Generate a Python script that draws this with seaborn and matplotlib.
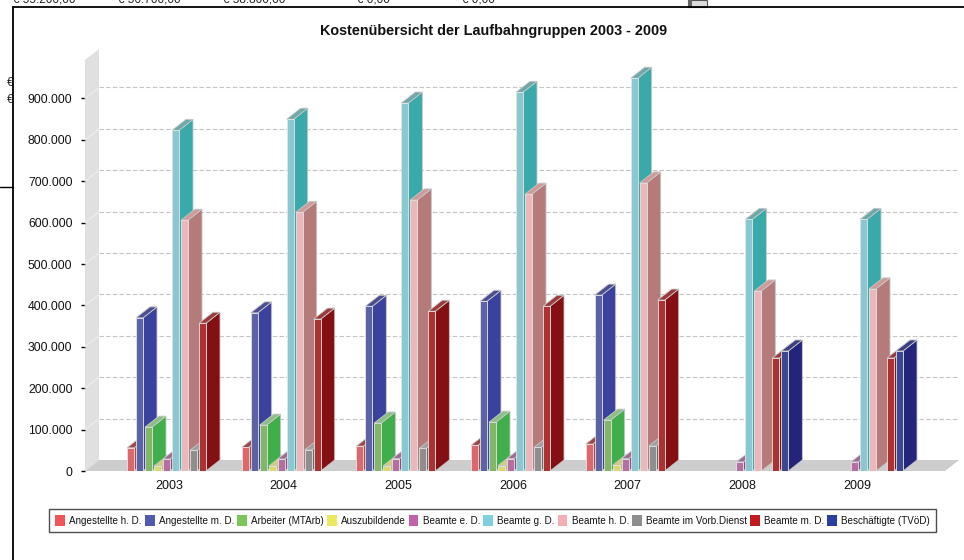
import numpy as np
import pandas as pd
import matplotlib
matplotlib.use('Agg')
import matplotlib.pyplot as plt
from matplotlib.patches import Polygon, Rectangle
from matplotlib.lines import Line2D
from matplotlib.transforms import ScaledTranslation
import seaborn as sns

# values (nan = no bar that year)
years = ['2003', '2004', '2005', '2006', '2007', '2008', '2009']
groups = ['Angestellte h. D.', 'Angestellte m. D.', 'Arbeiter (MTArb)', 'Auszubildende', 'Beamte e. D.',
          'Beamte g. D.', 'Beamte h. D.', 'Beamte im Vorb.Dienst', 'Beamte m. D.', 'Beschäftigte (TVöD)']
nan = float('nan')
ang_hd = [56000, 57000, 60000, 62000, 65000, nan, nan]
ang_md = [370000, 382000, 398000, 410000, 425000, nan, nan]
arbeiter = [106000, 111000, 116000, 118000, 123000, nan, nan]
azubi = [12000, 12000, 13000, 13000, 14000, nan, nan]
beamte_ed = [29000, 29000, 30000, 30000, 30000, 22000, 22000]
beamte_gd = [823000, 850000, 889000, 915000, 949000, 608000, 608000]
beamte_hd = [606000, 625000, 655000, 669000, 696000, 435000, 440000]
beamte_vorb = [50000, 51000, 55000, 57000, 60000, nan, nan]
beamte_md = [357000, 367000, 386000, 398000, 413000, 273000, 273000]
tvoed = [nan, nan, nan, nan, nan, 290000, 290000]
series = [ang_hd, ang_md, arbeiter, azubi, beamte_ed, beamte_gd, beamte_hd, beamte_vorb, beamte_md, tvoed]
yticks = [0, 100000, 200000, 300000, 400000, 500000, 600000, 700000, 800000, 900000]
ytick_labels = ['0', '100.000', '200.000', '300.000', '400.000', '500.000', '600.000', '700.000', '800.000', '900.000']

# leftovers of the spreadsheet behind the chart
stray_labels = ['€ 55.200,00', '€ 56.700,00', '€ 58.800,00', '€ 0,00', '€ 0,00']

front_cols = ['#F05558', '#5059B0', '#7DC45A', '#EDE85F', '#C062A8', '#80CFDC', '#F4AEB4', '#8E8E8E', '#C01C20', '#2A3FA0']
side_cols = ['#B04444', '#3A429E', '#3FAE4B', '#C4C060', '#8E4A80', '#3AA9A9', '#B57A7A', '#6C6C6C', '#851014', '#22257A']
top_cols = ['#A04444', '#4A4F90', '#8CBF84', '#D0CC80', '#A06A94', '#6FA8A8', '#D09A9A', '#A0A0A0', '#9A3A3A', '#3A3F80']

df = pd.DataFrame({
    'year': np.tile(years, len(groups)),
    'group': np.repeat(groups, len(years)),
    'value': np.concatenate(series),
})

sns.set_theme(style='white')
plt.rcParams['font.family'] = ['Liberation Sans', 'DejaVu Sans']

fig = plt.figure(figsize=(9.64, 5.6), dpi=100)
W, H = 964, 560
ax = fig.add_axes([85 / W, (H - 471) / H, 860 / W, 411 / H])

sns.barplot(data=df, x='year', y='value', hue='group', order=years, hue_order=groups,
            palette=front_cols, width=0.785, gap=0.22, dodge=True, legend=False, ax=ax,
            edgecolor='none', linewidth=0, errorbar=None)

ax.set_xlim(-0.75, 6.75)
ax.set_ylim(0, 993000)
ax.set_xlabel('')
ax.set_ylabel('')
sns.despine(ax=ax, left=True, bottom=True, top=True, right=True)
ax.patch.set_alpha(0)

# depth of the fake 3d box, 14 x 11 pixels, in data units
dx = 14 * 7.5 / 860
dy = 11 * 993000 / 411
x0, x1 = ax.get_xlim()
ytop = ax.get_ylim()[1]

# side wall and floor
ax.add_patch(Polygon([(x0, 0), (x0 + dx, dy), (x0 + dx, ytop + dy), (x0, ytop)], fc='#E0E0E0', ec='none',
                     zorder=0.5, clip_on=False))
ax.add_patch(Polygon([(x0, 0), (x1, 0), (x1 + dx, dy), (x0 + dx, dy)], fc='#CDCDCD', ec='none',
                     zorder=0.6, clip_on=False))
for t in yticks[1:]:
    ax.plot([x0 + dx, x1 + dx], [t + dy, t + dy], color='#C4C4C4', lw=0.8, ls=(0, (4, 2)), zorder=0.7, clip_on=False)
    ax.plot([x0, x0 + dx], [t, t + dy], color='#EFEFEF', lw=0.8, zorder=0.7, clip_on=False)

# extrude the bars seaborn drew, left to right so later ones cover earlier ones
bars = []
for cont, side, top, front in zip(ax.containers, side_cols, top_cols, front_cols):
    for b in cont:
        if b.get_height() > 0:
            bars.append((b, side, top))
bars.sort(key=lambda r: r[0].get_x())
z = 2
for b, side, top in bars:
    xa, xb, h = b.get_x(), b.get_x() + b.get_width(), b.get_height()
    ax.add_patch(Polygon([(xb, 0), (xb + dx, dy), (xb + dx, h + dy), (xb, h)], fc=side, ec='#C8C8C8', lw=0.6,
                         zorder=z, clip_on=False))
    ax.add_patch(Polygon([(xa, h), (xa + dx, h + dy), (xb + dx, h + dy), (xb, h)], fc=top, ec='#C8C8C8', lw=0.6,
                         zorder=z + 0.1, clip_on=False))
    b.set_zorder(z + 0.2)
    b.set_edgecolor('#E4E4E4')
    b.set_linewidth(0.6)
    z += 1

ax.set_yticks(yticks, ytick_labels)
ax.tick_params(axis='y', left=True, length=3, width=1, color='black', pad=6, labelsize=8.8, labelcolor='#111111')
ax.tick_params(axis='x', bottom=False, pad=0.5, labelsize=9, labelcolor='#111111')
# year labels sit 2 pixels left of the group centre in the original
for lab in ax.get_xticklabels():
    lab.set_transform(lab.get_transform() + ScaledTranslation(-2 / 100, 0, fig.dpi_scale_trans))

fig.text(493.5 / W, 1 - 31 / H, 'Kostenübersicht der Laufbahngruppen 2003 - 2009', ha='center', va='center',
         fontsize=10.4, fontweight='bold', color='#111111')

# legend strip
handles = [Rectangle((0, 0), 1, 1, fc=c, ec='none') for c in front_cols]
leg = fig.legend(handles, groups, ncol=10, loc='center', bbox_to_anchor=(492.5 / W, 1 - 520.5 / H), frameon=True,
                 fontsize=7.1, handlelength=1.0, handleheight=1.3, handletextpad=0.42, columnspacing=0.3,
                 borderpad=0.6, borderaxespad=0, fancybox=False, edgecolor='#222222', labelcolor='#111111')
leg.get_frame().set_linewidth(1.0)

# black frame of the chart object and what sticks out behind it
fig.add_artist(Line2D([13 / W, 13 / W], [0, 1 - 7 / H], color='black', lw=1.3))
fig.add_artist(Line2D([13 / W, 1], [1 - 7 / H, 1 - 7 / H], color='black', lw=1.3))
fig.add_artist(Line2D([0, 13 / W], [1 - 187 / H, 1 - 187 / H], color='black', lw=1))
fig.add_artist(Rectangle((688 / W, 1 - 7 / H), 19 / W, 7 / H, fc='#DDDDDD', ec='#555555', lw=0.8,
                         transform=fig.transFigure))
fig.add_artist(Rectangle((688 / W, 1 - 7 / H), 4 / W, 7 / H, fc='#666666', ec='none', transform=fig.transFigure))
for lbl, px in zip(stray_labels, [13, 118, 223, 357, 462]):
    fig.text(px / W, 1 - 0 / H, lbl, ha='left', va='center', fontsize=8.5, color='#222222')
for py in [83, 100]:
    fig.text(7 / W, 1 - py / H, '€', ha='left', va='center', fontsize=8.5, color='#222222', zorder=-1)

fig.savefig('out.png', dpi=100, facecolor='white')
